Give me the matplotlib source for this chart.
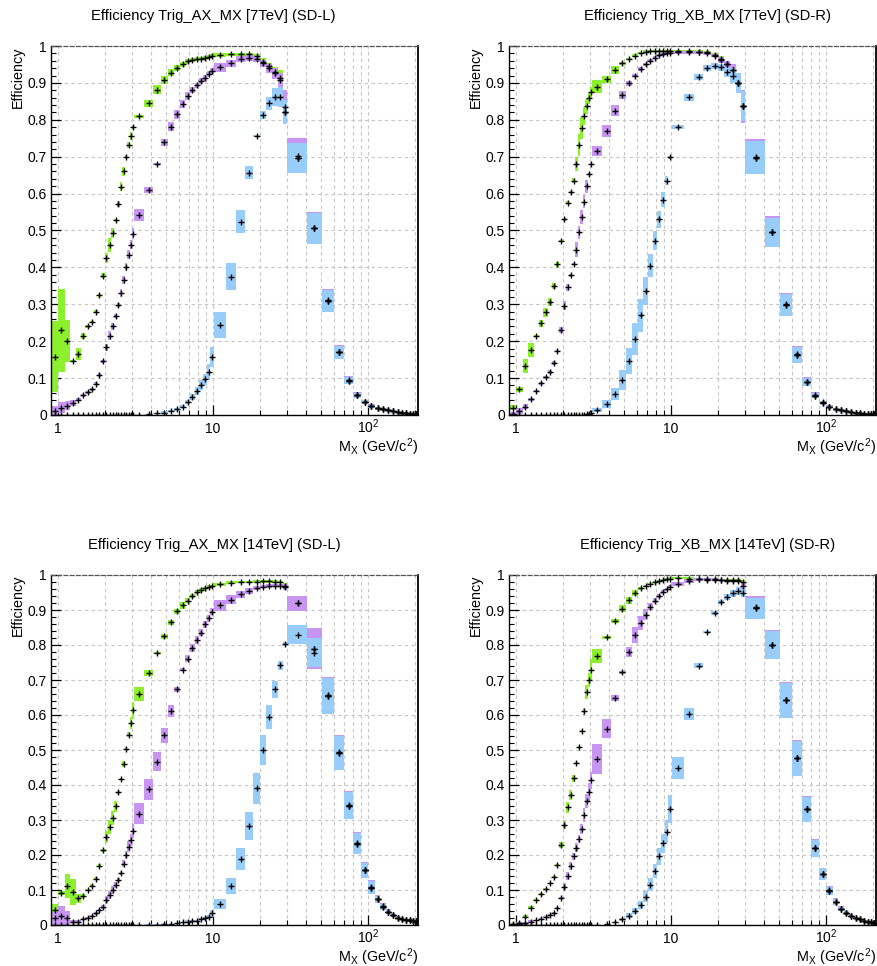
import matplotlib
matplotlib.use("Agg")
import matplotlib.pyplot as plt
import numpy as np
from matplotlib.ticker import FixedLocator, MultipleLocator, NullFormatter, FuncFormatter

plt.rcParams['font.family'] = ['Liberation Sans', 'DejaVu Sans']
plt.rcParams['mathtext.fontset'] = 'custom'
plt.rcParams['mathtext.rm'] = 'Liberation Sans'
plt.rcParams['mathtext.it'] = 'Liberation Sans:italic'

# Bin edges in M_X (GeV/c^2): 0.1 GeV bins, then 0.5, 2 and 10 GeV bins
bin_edges = [0.9, 1.0, 1.1, 1.2, 1.3, 1.4, 1.5, 1.6, 1.7, 1.8, 1.9, 2.0, 2.1, 2.2, 2.3,
             2.4, 2.5, 2.6, 2.7, 2.8, 2.9, 3.0, 3.1,
             3.6, 4.1, 4.6, 5.1, 5.6, 6.1, 6.6, 7.1, 7.6, 8.1, 8.6, 9.1, 9.6, 10.1,
             12.1, 14.1, 16.1, 18.1, 20.1, 22.1, 24.1, 26.1, 28.1, 30.1,
             40.1, 50.1, 60.1, 70.1, 80.1, 90.1, 100.1, 110.1, 120.1, 130.1, 140.1,
             150.1, 160.1, 170.1, 180.1, 190.1, 200.1, 210.1]

# ---- Trig_AX_MX, 7 TeV, SD-L ----
ax7_green = [0.158, 0.229, 0.201, 0.146, 0.165, 0.215, 0.241, 0.252, 0.280, 0.325, 0.378,
             0.425, 0.461, 0.494, 0.528, 0.572, 0.619, 0.661, 0.700, 0.731, 0.756, 0.780,
             0.809, 0.845, 0.881, 0.908, 0.928, 0.940, 0.950, 0.958, 0.962, 0.964, 0.966,
             0.968, 0.971, 0.973,
             0.976, 0.977, 0.977, 0.977, 0.973, 0.957, 0.945, 0.930, 0.912, 0.822,
             0.697, 0.506, 0.310, 0.170, 0.093, 0.053, 0.035, 0.024, 0.018, 0.015, 0.013,
             0.011, 0.008, 0.006, 0.005, 0.004, 0.004, 0.003]
ax7_green_err = [0.097, 0.112, 0.057, 0.003, 0.016, 0.008, 0.004, 0.004, 0.004, 0.004, 0.006,
                 0.014, 0.020, 0.014, 0.003, 0.009, 0.012, 0.012, 0.004, 0.008, 0.010, 0.004,
                 0.004, 0.010, 0.012, 0.010, 0.010, 0.008, 0.006, 0.006, 0.005, 0.005, 0.005,
                 0.005, 0.005, 0.005,
                 0.005, 0.005, 0.005, 0.005, 0.006, 0.010, 0.010, 0.012, 0.022, 0.030,
                 0.038, 0.040, 0.028, 0.017, 0.010, 0.006, 0.005, 0.004, 0.003, 0.003, 0.002,
                 0.002, 0.002, 0.002, 0.002, 0.001, 0.001, 0.001]
ax7_purple = [0.012, 0.020, 0.025, 0.032, 0.042, 0.054, 0.062, 0.070, 0.085, 0.109, 0.145,
              0.183, 0.215, 0.240, 0.269, 0.298, 0.331, 0.366, 0.401, 0.434, 0.462, 0.491,
              0.542, 0.610, 0.680, 0.739, 0.781, 0.815, 0.843, 0.864, 0.881, 0.893, 0.905,
              0.914, 0.924, 0.932,
              0.942, 0.953, 0.964, 0.967, 0.964, 0.953, 0.940, 0.926, 0.908, 0.835,
              0.703, 0.507, 0.311, 0.171, 0.095, 0.054, 0.036, 0.024, 0.018, 0.015, 0.013,
              0.011, 0.008, 0.006, 0.005, 0.004, 0.004, 0.003]
ax7_purple_err = [0.012, 0.014, 0.012, 0.008, 0.004, 0.004, 0.004, 0.004, 0.004, 0.006, 0.004,
                  0.010, 0.012, 0.010, 0.005, 0.005, 0.010, 0.012, 0.012, 0.012, 0.012, 0.015,
                  0.017, 0.008, 0.003, 0.009, 0.012, 0.012, 0.010, 0.010, 0.008, 0.008, 0.008,
                  0.008, 0.008, 0.008,
                  0.012, 0.010, 0.008, 0.008, 0.008, 0.010, 0.012, 0.015, 0.020, 0.045,
                  0.047, 0.044, 0.031, 0.019, 0.012, 0.008, 0.006, 0.005, 0.004, 0.003, 0.003,
                  0.002, 0.002, 0.002, 0.002, 0.002, 0.002, 0.002]
ax7_blue = [0.0, 0.0, 0.0, 0.0, 0.0, 0.0, 0.0, 0.0, 0.0, 0.0, 0.0,
            0.0, 0.0, 0.0, 0.0, 0.0, 0.0, 0.0, 0.0, 0.0, 0.0, 0.0,
            0.000, 0.002, 0.0045, 0.0065, 0.011, 0.0155, 0.023, 0.035, 0.048, 0.066, 0.081,
            0.097, 0.117, 0.158,
            0.244, 0.375, 0.524, 0.657, 0.756, 0.813, 0.845, 0.861, 0.862, 0.822,
            0.697, 0.506, 0.310, 0.170, 0.093, 0.053, 0.035, 0.024, 0.018, 0.015, 0.013,
            0.011, 0.008, 0.006, 0.005, 0.004, 0.004, 0.003]
ax7_blue_err = [0.0, 0.0, 0.0, 0.0, 0.0, 0.0, 0.0, 0.0, 0.0, 0.0, 0.0,
                0.0, 0.0, 0.0, 0.0, 0.0, 0.0, 0.0, 0.0, 0.0, 0.0, 0.0,
                0.000, 0.001, 0.002, 0.003, 0.003, 0.004, 0.005, 0.006, 0.008, 0.011, 0.013,
                0.015, 0.022, 0.027,
                0.035, 0.037, 0.031, 0.017, 0.003, 0.010, 0.018, 0.024, 0.028, 0.033,
                0.040, 0.042, 0.030, 0.018, 0.010, 0.007, 0.006, 0.004, 0.003, 0.003, 0.002,
                0.002, 0.002, 0.002, 0.002, 0.001, 0.001, 0.001]

# ---- Trig_XB_MX, 7 TeV, SD-R ----
xb7_green = [0.020, 0.070, 0.133, 0.176, 0.214, 0.248, 0.278, 0.307, 0.350, 0.408, 0.472,
             0.531, 0.575, 0.605, 0.635, 0.680, 0.732, 0.777, 0.810, 0.837, 0.858, 0.874,
             0.890, 0.910, 0.935, 0.953, 0.965, 0.974, 0.980, 0.985, 0.986, 0.987, 0.987,
             0.987, 0.987, 0.987,
             0.987, 0.986, 0.985, 0.983, 0.976, 0.964, 0.950, 0.935, 0.900, 0.837,
             0.697, 0.495, 0.298, 0.163, 0.089, 0.052, 0.033, 0.021, 0.017, 0.013, 0.011,
             0.008, 0.006, 0.005, 0.004, 0.004, 0.003, 0.003]
xb7_green_err = [0.006, 0.007, 0.020, 0.018, 0.002, 0.010, 0.013, 0.011, 0.008, 0.007, 0.002,
                 0.004, 0.004, 0.003, 0.007, 0.020, 0.030, 0.030, 0.025, 0.020, 0.015, 0.015,
                 0.018, 0.010, 0.010, 0.004, 0.003, 0.003, 0.003, 0.003, 0.003, 0.003, 0.003,
                 0.003, 0.003, 0.003,
                 0.003, 0.003, 0.004, 0.004, 0.006, 0.008, 0.010, 0.012, 0.020, 0.038,
                 0.043, 0.038, 0.027, 0.020, 0.010, 0.006, 0.004, 0.003, 0.003, 0.002, 0.002,
                 0.002, 0.002, 0.001, 0.001, 0.001, 0.001, 0.001]
xb7_purple = [0.004, 0.010, 0.023, 0.043, 0.065, 0.086, 0.102, 0.117, 0.140, 0.174, 0.230,
              0.296, 0.346, 0.379, 0.410, 0.448, 0.495, 0.537, 0.578, 0.620, 0.653, 0.680,
              0.716, 0.770, 0.825, 0.867, 0.899, 0.920, 0.937, 0.950, 0.960, 0.968, 0.975,
              0.978, 0.980, 0.982,
              0.983, 0.983, 0.983, 0.980, 0.974, 0.962, 0.950, 0.935, 0.900, 0.837,
              0.700, 0.497, 0.300, 0.165, 0.090, 0.054, 0.034, 0.022, 0.017, 0.013, 0.011,
              0.008, 0.006, 0.005, 0.004, 0.004, 0.003, 0.003]
xb7_purple_err = [0.004, 0.008, 0.006, 0.004, 0.004, 0.004, 0.004, 0.005, 0.005, 0.003, 0.008,
                  0.012, 0.010, 0.004, 0.003, 0.020, 0.017, 0.019, 0.018, 0.018, 0.003, 0.003,
                  0.013, 0.017, 0.016, 0.010, 0.007, 0.005, 0.005, 0.004, 0.004, 0.004, 0.004,
                  0.004, 0.004, 0.004,
                  0.004, 0.004, 0.004, 0.004, 0.005, 0.008, 0.010, 0.015, 0.025, 0.045,
                  0.048, 0.041, 0.030, 0.022, 0.012, 0.008, 0.005, 0.004, 0.003, 0.003, 0.002,
                  0.002, 0.002, 0.002, 0.002, 0.001, 0.001, 0.001]
xb7_blue = [0.0, 0.0, 0.0, 0.0, 0.0, 0.0, 0.0, 0.0, 0.0, 0.0, 0.0,
            0.0, 0.0, 0.0, 0.0, 0.0, 0.0, 0.0, 0.001, 0.002, 0.004, 0.006,
            0.0135, 0.030, 0.056, 0.095, 0.146, 0.205, 0.270, 0.337, 0.405, 0.472, 0.531,
            0.584, 0.635, 0.698,
            0.781, 0.861, 0.915, 0.940, 0.946, 0.942, 0.930, 0.920, 0.900, 0.837,
            0.697, 0.495, 0.298, 0.163, 0.089, 0.052, 0.033, 0.021, 0.017, 0.013, 0.011,
            0.008, 0.006, 0.005, 0.004, 0.004, 0.003, 0.003]
xb7_blue_err = [0.0, 0.0, 0.0, 0.0, 0.0, 0.0, 0.0, 0.0, 0.0, 0.0, 0.0,
                0.0, 0.0, 0.0, 0.0, 0.0, 0.0, 0.0, 0.001, 0.001, 0.002, 0.002,
                0.006, 0.011, 0.016, 0.027, 0.036, 0.043, 0.044, 0.038, 0.031, 0.026, 0.023,
                0.019, 0.013, 0.003,
                0.005, 0.009, 0.008, 0.008, 0.008, 0.010, 0.013, 0.020, 0.028, 0.040,
                0.045, 0.040, 0.029, 0.021, 0.011, 0.007, 0.004, 0.003, 0.003, 0.002, 0.002,
                0.002, 0.002, 0.001, 0.001, 0.001, 0.001, 0.001]

# ---- Trig_AX_MX, 14 TeV, SD-L ----
ax14_green = [0.043, 0.091, 0.112, 0.094, 0.076, 0.084, 0.100, 0.112, 0.132, 0.169, 0.213,
              0.251, 0.279, 0.305, 0.339, 0.379, 0.417, 0.460, 0.504, 0.544, 0.577, 0.613,
              0.660, 0.720, 0.776, 0.825, 0.865, 0.896, 0.913, 0.927, 0.940, 0.951, 0.957,
              0.962, 0.967, 0.968,
              0.973, 0.978, 0.980, 0.980, 0.981, 0.982, 0.982, 0.981, 0.980, 0.970,
              0.920, 0.790, 0.654, 0.491, 0.341, 0.232, 0.156, 0.107, 0.073, 0.052, 0.038,
              0.029, 0.021, 0.016, 0.014, 0.013, 0.012, 0.011]
ax14_green_err = [0.017, 0.005, 0.035, 0.037, 0.013, 0.006, 0.004, 0.004, 0.004, 0.004, 0.003,
                  0.017, 0.020, 0.020, 0.015, 0.005, 0.004, 0.008, 0.004, 0.008, 0.018, 0.025,
                  0.020, 0.009, 0.003, 0.007, 0.007, 0.007, 0.010, 0.008, 0.006, 0.006, 0.005,
                  0.004, 0.004, 0.004,
                  0.005, 0.004, 0.004, 0.004, 0.004, 0.004, 0.004, 0.004, 0.004, 0.006,
                  0.021, 0.056, 0.050, 0.046, 0.036, 0.028, 0.020, 0.017, 0.010, 0.007, 0.005,
                  0.004, 0.003, 0.003, 0.002, 0.002, 0.002, 0.002]
ax14_purple = [0.019, 0.027, 0.020, 0.010, 0.010, 0.016, 0.021, 0.026, 0.033, 0.043, 0.052,
               0.072, 0.086, 0.100, 0.115, 0.129, 0.148, 0.175, 0.200, 0.224, 0.243, 0.269,
               0.318, 0.388, 0.466, 0.542, 0.611, 0.673, 0.730, 0.761, 0.792, 0.814, 0.835,
               0.859, 0.876, 0.895,
               0.913, 0.930, 0.945, 0.954, 0.962, 0.967, 0.969, 0.970, 0.970, 0.966,
               0.919, 0.790, 0.656, 0.493, 0.343, 0.234, 0.157, 0.109, 0.074, 0.053, 0.038,
               0.029, 0.021, 0.016, 0.014, 0.013, 0.012, 0.011]
ax14_purple_err = [0.019, 0.027, 0.020, 0.004, 0.003, 0.003, 0.003, 0.003, 0.003, 0.004, 0.005,
                   0.010, 0.012, 0.012, 0.008, 0.006, 0.006, 0.010, 0.012, 0.015, 0.018, 0.020,
                   0.030, 0.030, 0.027, 0.022, 0.017, 0.008, 0.003, 0.010, 0.012, 0.012, 0.010,
                   0.010, 0.010, 0.010,
                   0.017, 0.014, 0.010, 0.008, 0.006, 0.005, 0.005, 0.005, 0.005, 0.008,
                   0.022, 0.059, 0.053, 0.050, 0.041, 0.031, 0.022, 0.019, 0.012, 0.009, 0.007,
                   0.005, 0.004, 0.003, 0.003, 0.003, 0.003, 0.003]
ax14_blue = [0.0, 0.0, 0.0, 0.0, 0.0, 0.0, 0.0, 0.0, 0.0, 0.0, 0.0,
             0.0, 0.0, 0.0, 0.0, 0.0, 0.0, 0.0, 0.0, 0.0, 0.0, 0.0,
             0.000, 0.001, 0.001, 0.002, 0.003, 0.005, 0.008, 0.010, 0.011, 0.012, 0.016,
             0.019, 0.024, 0.033,
             0.060, 0.112, 0.188, 0.283, 0.391, 0.499, 0.594, 0.673, 0.742, 0.803,
             0.829, 0.778, 0.654, 0.491, 0.341, 0.232, 0.156, 0.107, 0.073, 0.052, 0.038,
             0.029, 0.021, 0.016, 0.014, 0.013, 0.012, 0.011]
ax14_blue_err = [0.0, 0.0, 0.0, 0.0, 0.0, 0.0, 0.0, 0.0, 0.0, 0.0, 0.0,
                 0.0, 0.0, 0.0, 0.0, 0.0, 0.0, 0.0, 0.0, 0.0, 0.0, 0.0,
                 0.000, 0.001, 0.001, 0.001, 0.001, 0.002, 0.002, 0.003, 0.003, 0.003, 0.003,
                 0.004, 0.005, 0.010,
                 0.014, 0.023, 0.031, 0.040, 0.044, 0.043, 0.034, 0.024, 0.012, 0.006,
                 0.027, 0.042, 0.052, 0.048, 0.038, 0.030, 0.021, 0.018, 0.011, 0.008, 0.006,
                 0.004, 0.003, 0.003, 0.002, 0.002, 0.002, 0.002]

# ---- Trig_XB_MX, 14 TeV, SD-R ----
xb14_green = [0.002, 0.005, 0.024, 0.050, 0.072, 0.089, 0.103, 0.119, 0.138, 0.172, 0.229,
              0.286, 0.336, 0.372, 0.420, 0.463, 0.509, 0.555, 0.611, 0.666, 0.701, 0.730,
              0.770, 0.822, 0.868, 0.904, 0.928, 0.949, 0.962, 0.968, 0.975, 0.980, 0.983,
              0.985, 0.988, 0.988,
              0.992, 0.990, 0.988, 0.987, 0.986, 0.985, 0.985, 0.985, 0.985, 0.980,
              0.905, 0.799, 0.642, 0.477, 0.331, 0.219, 0.145, 0.097, 0.065, 0.046, 0.035,
              0.027, 0.021, 0.017, 0.012, 0.010, 0.008, 0.007]
xb14_green_err = [0.003, 0.004, 0.005, 0.003, 0.002, 0.002, 0.002, 0.002, 0.002, 0.003, 0.008,
                  0.012, 0.015, 0.015, 0.010, 0.003, 0.003, 0.003, 0.010, 0.020, 0.020, 0.030,
                  0.020, 0.005, 0.005, 0.010, 0.010, 0.008, 0.004, 0.003, 0.003, 0.003, 0.003,
                  0.003, 0.003, 0.003,
                  0.003, 0.003, 0.003, 0.003, 0.003, 0.003, 0.003, 0.003, 0.003, 0.005,
                  0.028, 0.038, 0.048, 0.048, 0.034, 0.022, 0.016, 0.011, 0.008, 0.005, 0.004,
                  0.003, 0.003, 0.002, 0.002, 0.002, 0.002, 0.002]
xb14_purple = [0.000, 0.003, 0.005, 0.010, 0.013, 0.017, 0.024, 0.029, 0.035, 0.050, 0.076,
               0.110, 0.140, 0.169, 0.196, 0.221, 0.245, 0.275, 0.313, 0.353, 0.380, 0.413,
               0.474, 0.561, 0.649, 0.722, 0.780, 0.828, 0.864, 0.887, 0.909, 0.927, 0.940,
               0.951, 0.959, 0.967,
               0.975, 0.983, 0.988, 0.988, 0.988, 0.986, 0.983, 0.983, 0.983, 0.970,
               0.908, 0.801, 0.643, 0.478, 0.332, 0.220, 0.146, 0.099, 0.066, 0.047, 0.035,
               0.027, 0.021, 0.017, 0.012, 0.010, 0.008, 0.007]
xb14_purple_err = [0.002, 0.005, 0.004, 0.004, 0.002, 0.002, 0.002, 0.002, 0.002, 0.002, 0.003,
                   0.010, 0.012, 0.012, 0.010, 0.012, 0.012, 0.015, 0.020, 0.020, 0.026, 0.025,
                   0.043, 0.027, 0.008, 0.005, 0.015, 0.023, 0.020, 0.015, 0.010, 0.008, 0.006,
                   0.005, 0.005, 0.005,
                   0.006, 0.006, 0.004, 0.004, 0.004, 0.004, 0.004, 0.004, 0.004, 0.010,
                   0.032, 0.042, 0.051, 0.050, 0.037, 0.025, 0.018, 0.013, 0.010, 0.007, 0.005,
                   0.004, 0.003, 0.003, 0.003, 0.002, 0.002, 0.002]
xb14_blue = [0.0, 0.0, 0.0, 0.0, 0.0, 0.0, 0.0, 0.0, 0.0, 0.0, 0.0,
             0.0, 0.0, 0.0, 0.0, 0.0, 0.0, 0.0, 0.0, 0.0, 0.0, 0.0,
             0.000, 0.003, 0.008, 0.016, 0.027, 0.041, 0.057, 0.081, 0.115, 0.153, 0.196,
             0.234, 0.267, 0.331,
             0.448, 0.603, 0.741, 0.837, 0.892, 0.923, 0.938, 0.948, 0.954, 0.949,
             0.905, 0.799, 0.642, 0.477, 0.331, 0.219, 0.145, 0.097, 0.065, 0.046, 0.035,
             0.027, 0.021, 0.017, 0.012, 0.010, 0.008, 0.007]
xb14_blue_err = [0.0, 0.0, 0.0, 0.0, 0.0, 0.0, 0.0, 0.0, 0.0, 0.0, 0.0,
                 0.0, 0.0, 0.0, 0.0, 0.0, 0.0, 0.0, 0.0, 0.0, 0.0, 0.0,
                 0.000, 0.001, 0.002, 0.004, 0.006, 0.009, 0.012, 0.015, 0.018, 0.020, 0.024,
                 0.027, 0.032, 0.040,
                 0.031, 0.018, 0.007, 0.004, 0.006, 0.006, 0.008, 0.010, 0.012, 0.012,
                 0.030, 0.040, 0.050, 0.050, 0.036, 0.024, 0.017, 0.012, 0.009, 0.006, 0.004,
                 0.003, 0.003, 0.002, 0.002, 0.002, 0.002, 0.002]

titles = ["Efficiency Trig_AX_MX [7TeV] (SD-L)",
          "Efficiency Trig_XB_MX [7TeV] (SD-R)",
          "Efficiency Trig_AX_MX [14TeV] (SD-L)",
          "Efficiency Trig_XB_MX [14TeV] (SD-R)"]

panels = [
    [(ax7_green, ax7_green_err), (ax7_purple, ax7_purple_err), (ax7_blue, ax7_blue_err)],
    [(xb7_green, xb7_green_err), (xb7_purple, xb7_purple_err), (xb7_blue, xb7_blue_err)],
    [(ax14_green, ax14_green_err), (ax14_purple, ax14_purple_err), (ax14_blue, ax14_blue_err)],
    [(xb14_green, xb14_green_err), (xb14_purple, xb14_purple_err), (xb14_blue, xb14_blue_err)],
]

band_colors = ['#8cf02e', '#c896f2', '#98cdf9']

W, H = 877, 966
fig = plt.figure(figsize=(W / 100, H / 100), dpi=100)
fig.patch.set_facecolor('white')

# pixel boxes (left, top, right, bottom) of each frame, and title centres
frames = [(51, 46, 418, 415), (509, 46, 876, 415),
          (51, 575, 418, 925), (509, 575, 876, 925)]
title_x = [213, 707, 214, 708]

edges = np.array(bin_edges)
lo_edges = edges[:-1]
widths = np.diff(edges)
centers = 0.5 * (edges[:-1] + edges[1:])


def ytick_fmt(v, pos):
    v = round(v, 2)
    if abs(v) < 1e-9:
        return '0'
    if abs(v - 1) < 1e-9:
        return '1'
    return f'{v:.1f}'


def xtick_fmt(v, pos):
    if abs(v - 1) < 1e-9:
        return '1'
    if abs(v - 10) < 1e-9:
        return '10'
    return r'10$^{\mathregular{2}}$'


axes = []
for frame, series, title, tx in zip(frames, panels, titles, title_x):
    l, t, r, b = frame
    ax = fig.add_axes([l / W, 1 - b / H, (r - l) / W, (b - t) / H])
    axes.append(ax)
    ax.set_xscale('log')

    for (vals, errs), col in zip(series, band_colors):
        vals = np.array(vals)
        errs = np.array(errs)
        ax.bar(lo_edges, 2 * errs, width=widths, bottom=vals - errs, align='edge',
               color=col, linewidth=0, zorder=2)
    for vals, errs in series:
        ax.plot(centers, vals, linestyle='none', marker='+', color='black',
                markersize=4.6, markeredgewidth=1.0, zorder=4)

    ax.set_xlim(0.9, 210)
    ax.set_ylim(0, 1)

    ax.xaxis.set_major_locator(FixedLocator([1, 10, 100]))
    ax.xaxis.set_minor_locator(FixedLocator([2, 3, 4, 5, 6, 7, 8, 9,
                                             20, 30, 40, 50, 60, 70, 80, 90, 200]))
    ax.xaxis.set_major_formatter(FuncFormatter(xtick_fmt))
    ax.xaxis.set_minor_formatter(NullFormatter())
    ax.yaxis.set_major_locator(MultipleLocator(0.1))
    ax.yaxis.set_minor_locator(MultipleLocator(0.02))
    ax.yaxis.set_major_formatter(FuncFormatter(ytick_fmt))

    ax.tick_params(which='both', direction='in', top=False, right=False,
                   colors='black', labelsize=10)
    ax.tick_params(which='major', length=7, width=0.9)
    ax.tick_params(which='minor', length=3.6, width=0.8)
    ax.tick_params(axis='y', pad=3)
    ax.tick_params(axis='x', pad=13)

    ax.grid(True, which='major', axis='y', linestyle=(0, (3, 3)), color='#c4c4c4',
            linewidth=0.8)
    ax.grid(True, which='both', axis='x', linestyle=(0, (3, 3)), color='#c4c4c4',
            linewidth=0.8)
    ax.set_axisbelow(True)

    ax.spines['left'].set_linewidth(1.0)
    ax.spines['bottom'].set_linewidth(1.0)
    ax.spines['right'].set_linewidth(1.3)
    ax.spines['top'].set_linestyle((0, (3, 2)))
    ax.spines['top'].set_color('#555555')
    ax.spines['top'].set_linewidth(0.9)

    # pad title, axis titles
    fig.text(tx / W, 1 - (t - 30) / H, title, ha='center', va='center', fontsize=10.6)
    fig.text((l - 33) / W, 1 - t / H, 'Efficiency', rotation=90, ha='center', va='top',
             fontsize=10.4)
    fig.text(r / W, 1 - (b + 32) / H, r'M$_{\mathregular{X}}$ (GeV/c$^{\mathregular{2}}$)',
             ha='right', va='center', fontsize=10.4)

fig.canvas.draw()
for ax in axes:
    for tick in ax.xaxis.get_major_ticks():
        tick.label1.set_verticalalignment('baseline')

fig.savefig('out.png', dpi=100, facecolor='white')
